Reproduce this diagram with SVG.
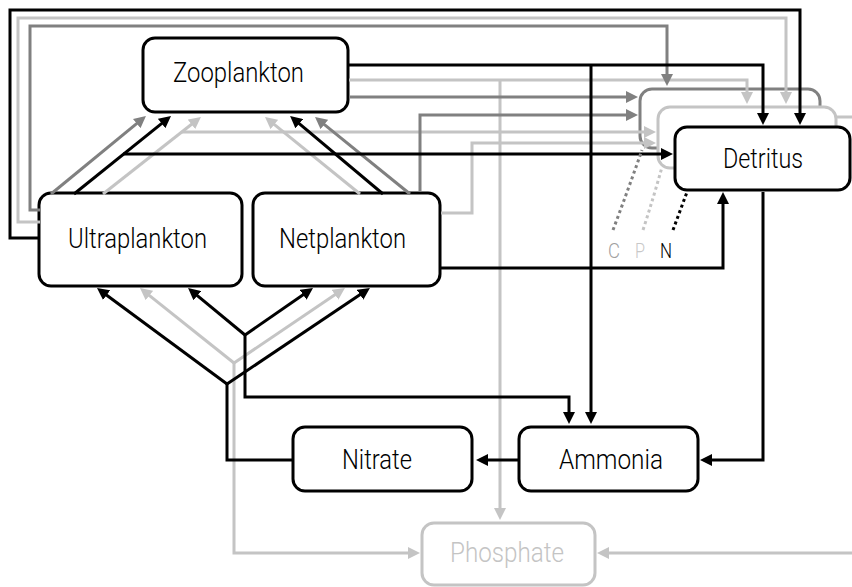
<svg xmlns="http://www.w3.org/2000/svg" width="852" height="587" viewBox="0 0 852 587">
<style>
.box{fill:#fff;stroke:#000;stroke-width:3}
.boxC{fill:#fff;stroke:#808080;stroke-width:3}
.boxP{fill:#fff;stroke:#c4c4c4;stroke-width:3}
.lbl{font-family:Roboto,"Liberation Sans",Arial,sans-serif;font-weight:300;font-size:28px;fill:#000;text-anchor:middle}
.lblP{fill:#c4c4c4}
.n{fill:none;stroke:#000;stroke-width:3}
.c{fill:none;stroke:#808080;stroke-width:3}
.p{fill:none;stroke:#c4c4c4;stroke-width:3}
.n.a{marker-end:url(#an)}
.c.a{marker-end:url(#ac)}
.p.a{marker-end:url(#ap)}
.dot{stroke-dasharray:3 3}
.cpn{font-family:Roboto,"Liberation Sans",Arial,sans-serif;font-weight:300;font-size:21px;text-anchor:middle}
</style>
<defs>
<marker id="an" markerUnits="userSpaceOnUse" markerWidth="12" markerHeight="12" refX="7" refY="6" orient="auto"><path d="M0,0 L12,6 L0,12 z" fill="#000"/></marker>
<marker id="ac" markerUnits="userSpaceOnUse" markerWidth="12" markerHeight="12" refX="7" refY="6" orient="auto"><path d="M0,0 L12,6 L0,12 z" fill="#808080"/></marker>
<marker id="ap" markerUnits="userSpaceOnUse" markerWidth="12" markerHeight="12" refX="7" refY="6" orient="auto"><path d="M0,0 L12,6 L0,12 z" fill="#c4c4c4"/></marker>
</defs>

<g id="zooplankton">
<rect class="box" x="143" y="38" width="205" height="74" rx="12"/>
<text class="lbl" x="238.5" y="82" textLength="131" lengthAdjust="spacingAndGlyphs">Zooplankton</text>
</g>
<g id="ultraplankton">
<rect class="box" x="39" y="193" width="203" height="93" rx="12"/>
<text class="lbl" x="137.5" y="248" textLength="139" lengthAdjust="spacingAndGlyphs">Ultraplankton</text>
</g>
<g id="netplankton">
<rect class="box" x="253" y="193" width="187" height="93" rx="12"/>
<text class="lbl" x="342.5" y="248" textLength="127" lengthAdjust="spacingAndGlyphs">Netplankton</text>
</g>
<g id="detritus">
<rect class="boxC" x="640" y="89" width="180" height="59" rx="12"/>
<rect class="boxP" x="658" y="107" width="178" height="61" rx="12"/>
<rect class="box" x="675" y="127" width="175" height="63" rx="12"/>
<text class="lbl" x="763" y="168" textLength="80" lengthAdjust="spacingAndGlyphs">Detritus</text>
</g>
<g id="nitrate">
<rect class="box" x="293" y="427" width="179" height="64" rx="12"/>
<text class="lbl" x="377" y="469" textLength="70" lengthAdjust="spacingAndGlyphs">Nitrate</text>
</g>
<g id="ammonia">
<rect class="box" x="519" y="427" width="179" height="64" rx="12"/>
<text class="lbl" x="611" y="469" textLength="104" lengthAdjust="spacingAndGlyphs">Ammonia</text>
</g>
<g id="phosphate">
<rect class="boxP" x="422" y="523" width="173" height="62" rx="12"/>
<text class="lbl lblP" x="507" y="562" textLength="114" lengthAdjust="spacingAndGlyphs">Phosphate</text>
</g>

<g id="connectors">
<path class="p a" d="M40,222 H18 V18 H786 V99"/>
<path class="p a" d="M349,80 H747 V99"/>
<path class="p a" d="M500,80 V515"/>
<path class="p a" d="M182,132 H651"/>
<path class="p a" d="M441,213 H472 V143 H651"/>
<path class="p a" d="M103,194 L197,120"/>
<path class="p a" d="M360,194 L268.9,120.1"/>
<path class="p a" d="M234,363 L143.9,291.1"/>
<path class="p a" d="M234,363 L340.8,290.8"/>
<path class="p a" d="M234,363 V553 H415"/>
<path class="p a" d="M837,117 H860 V553 H602"/>
<path class="c a" d="M40,210 H30 V26 H667 V81"/>
<path class="c a" d="M349,97 H633"/>
<path class="c a" d="M420,192 V115 H633"/>
<path class="c a" d="M51,194 L142.1,119.1"/>
<path class="c a" d="M410,194 L318.9,120.1"/>
<path class="n a" d="M40,238 H10 V10 H800 V120"/>
<path class="n a" d="M349,65 H763 V120"/>
<path class="n a" d="M591,65 V419"/>
<path class="n a" d="M123,154 H668"/>
<path class="n a" d="M441,268 H723 V197"/>
<path class="n a" d="M74,194 L167.1,119.1"/>
<path class="n a" d="M383,194 L293.9,119.2"/>
<path class="n a" d="M245,335 L191.9,291.2"/>
<path class="n a" d="M245,335 L308.9,290.8"/>
<path class="n a" d="M245,335 V397 H569 V419"/>
<path class="n a" d="M227,384 L101,291"/>
<path class="n a" d="M227,384 L365.8,290.8"/>
<path class="n" d="M293,460 H227 V384"/>
<path class="n a" d="M518,460 H481"/>
<path class="n a" d="M763,192 V460 H705"/>
<path class="c dot" d="M613,230 Q628,190 642,150"/>
<path class="p dot" d="M643,230 Q654,196 662,167"/>
<path class="n dot" d="M673,230 L687,192"/>
</g>

<g id="layer-labels">
<text class="cpn" x="614" y="258" fill="#a0a0a0" textLength="12" lengthAdjust="spacingAndGlyphs">C</text>
<text class="cpn" x="640" y="258" fill="#c8c8c8" textLength="10" lengthAdjust="spacingAndGlyphs">P</text>
<text class="cpn" x="666" y="258" fill="#000" textLength="12" lengthAdjust="spacingAndGlyphs">N</text>
</g>
</svg>
